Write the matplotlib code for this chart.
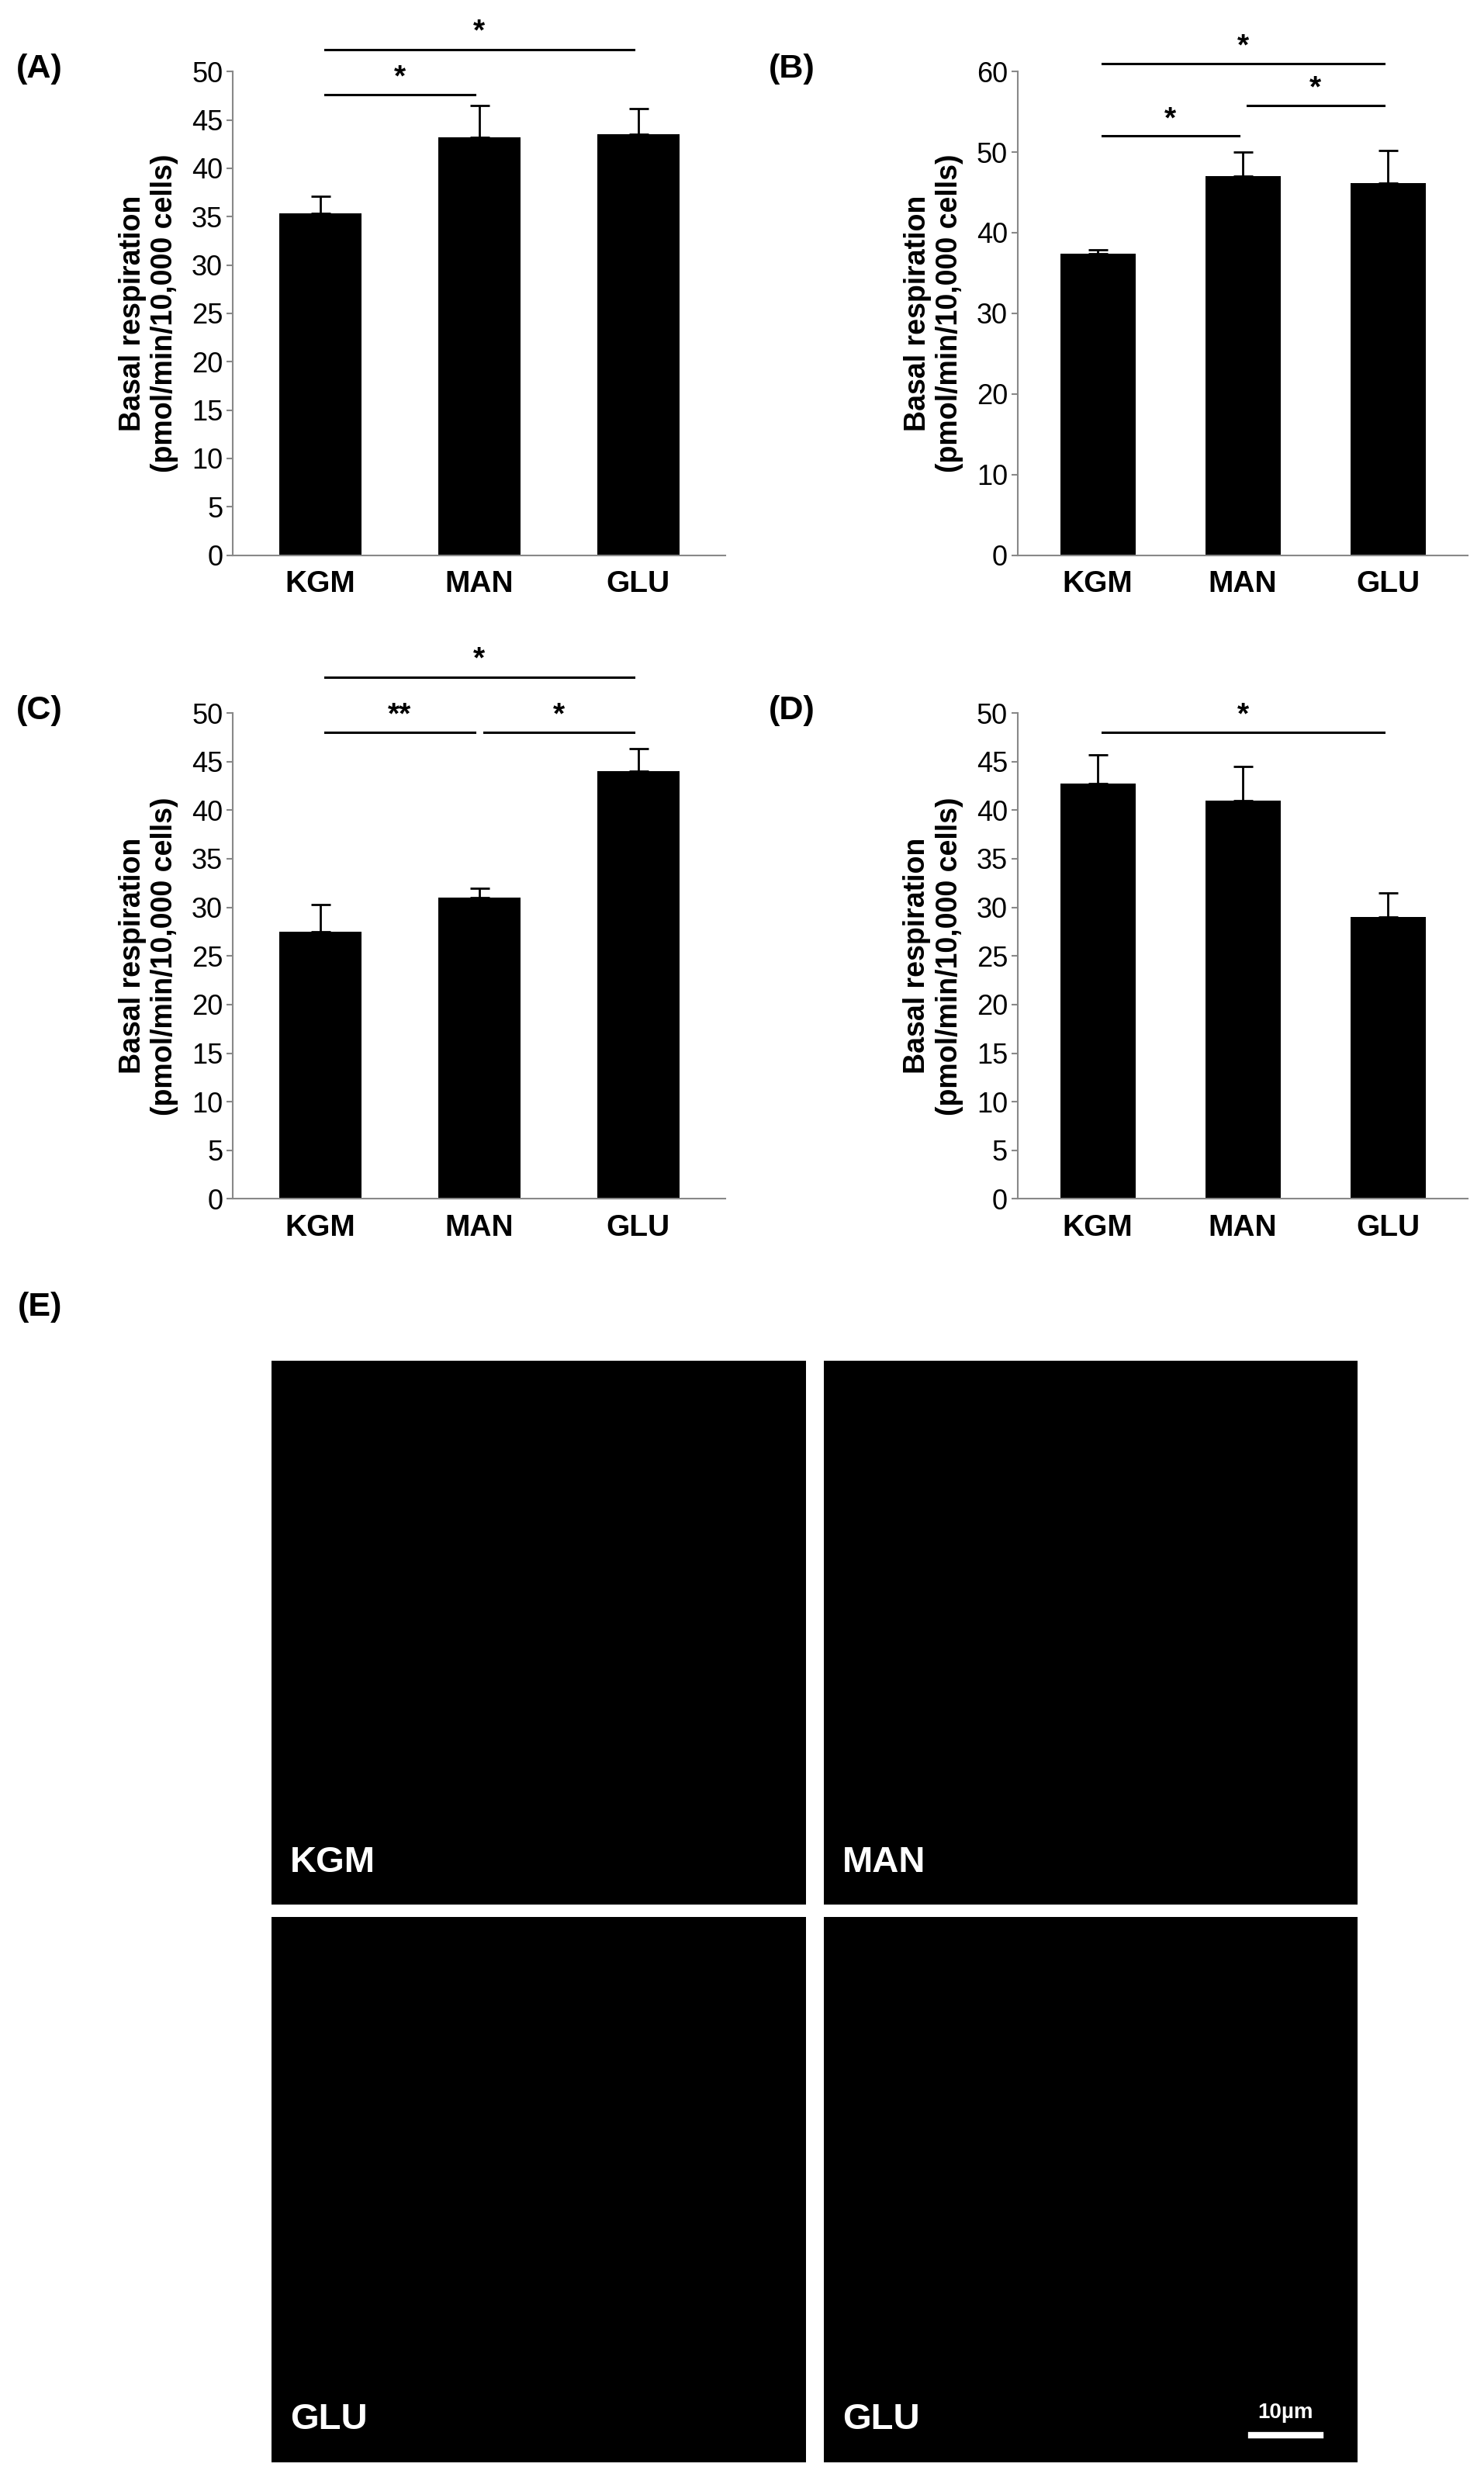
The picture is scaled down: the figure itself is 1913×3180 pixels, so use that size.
import matplotlib
matplotlib.use("Agg")
import matplotlib.pyplot as plt
import numpy as np

plt.rcParams['font.family'] = ['Liberation Sans', 'DejaVu Sans']

categories = ["KGM", "MAN", "GLU"]
vals_A = [35.3, 43.2, 43.5]; err_A = [1.8, 3.3, 2.7]
vals_B = [37.4, 47.0, 46.2]; err_B = [0.5, 3.0, 4.0]
vals_C = [27.5, 31.0, 44.0]; err_C = [2.8, 1.0, 2.3]
vals_D = [42.7, 41.0, 29.0]; err_D = [3.0, 3.5, 2.5]
# significance: (i, j, y, label)
sig_A = [(0, 1, 47.6, "*"), (0, 2, 52.3, "*")]
sig_B = [(0, 1, 52.0, "*"), (1, 2, 55.8, "*"), (0, 2, 61.0, "*")]
sig_C = [(0, 1, 48.0, "**"), (1, 2, 48.0, "*"), (0, 2, 53.7, "*")]
sig_D = [(0, 2, 48.0, "*")]
ylims = {"A": (50, 5), "B": (60, 10), "C": (50, 5), "D": (50, 5)}

fig = plt.figure(figsize=(19.13, 31.8), dpi=100)

specs = [
    ("A", vals_A, err_A, sig_A, [0.157, 0.775, 0.332, 0.196], 0.011),
    ("B", vals_B, err_B, sig_B, [0.686, 0.775, 0.303, 0.196], 0.518),
    ("C", vals_C, err_C, sig_C, [0.157, 0.514, 0.332, 0.197], 0.011),
    ("D", vals_D, err_D, sig_D, [0.686, 0.514, 0.303, 0.197], 0.518),
]
for lab, v, e, sig, rect, lx in specs:
    ax = fig.add_axes(rect)
    x = np.arange(len(categories))
    ax.bar(x, v, width=0.52, color="black", zorder=2)
    ax.errorbar(x, v, yerr=[np.zeros(len(e)), e], fmt="none", ecolor="black",
                capsize=9, elinewidth=2, capthick=2, zorder=3)
    top, step = ylims[lab]
    ax.set_ylim(0, top)
    ax.set_xlim(-0.55, 2.55)
    ax.set_yticks(np.arange(0, top + 1, step))
    ax.set_xticks(x)
    ax.set_xticklabels(categories, fontsize=28, fontweight="bold")
    ax.tick_params(axis="y", labelsize=26, length=6, width=1.5, color="#888888")
    ax.tick_params(axis="x", length=0, pad=14)
    for s in ["top", "right"]:
        ax.spines[s].set_visible(False)
    for s in ["left", "bottom"]:
        ax.spines[s].set_color("#888888")
        ax.spines[s].set_linewidth(1.5)
    ax.set_ylabel("Basal respiration\n(pmol/min/10,000 cells)", fontsize=27,
                  fontweight="bold", labelpad=12)
    for i, j, y, t in sig:
        ax.plot([i + 0.03, j - 0.03], [y, y], color="black", lw=2.2, clip_on=False)
        ax.text((i + j) / 2, y + 0.3, t, ha="center", va="bottom", fontsize=28,
                fontweight="bold")
    fig.text(lx, rect[1] + rect[3] + 0.001, f"({lab})", fontsize=31,
             fontweight="bold", va="center")

fig.text(0.012, 0.47, "(E)", fontsize=31, fontweight="bold", va="center")

img_labels = ["KGM", "MAN", "GLU", "GLU"]
img_rects = [[0.183, 0.228, 0.360, 0.2205], [0.555, 0.228, 0.360, 0.2205],
             [0.183, 0.002, 0.360, 0.221], [0.555, 0.002, 0.360, 0.221]]
for k, (t, r) in enumerate(zip(img_labels, img_rects)):
    ax = fig.add_axes(r)
    ax.set_facecolor("black")
    ax.set_xticks([]); ax.set_yticks([])
    for s in ax.spines.values():
        s.set_visible(False)
    ax.set_xlim(0, 1); ax.set_ylim(0, 1)
    ax.text(0.035, 0.06, t, color="white", fontsize=34, fontweight="bold",
            transform=ax.transAxes)
    if k == 3:
        ax.plot([0.8, 0.93], [0.05, 0.05], color="white", lw=6, transform=ax.transAxes)
        ax.text(0.865, 0.08, "10µm", color="white", fontsize=20, fontweight="bold",
                ha="center", transform=ax.transAxes)

fig.savefig("out.png", dpi=100, facecolor="white")
